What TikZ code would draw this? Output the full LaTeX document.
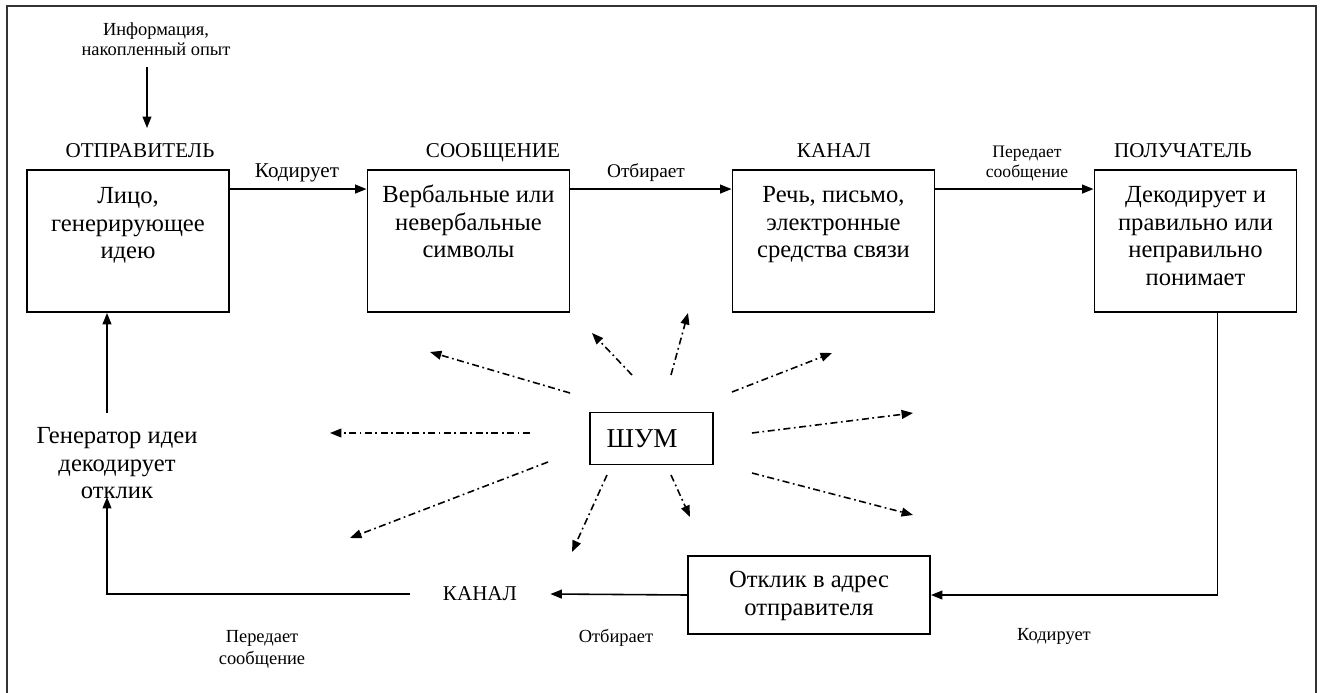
\documentclass[tikz,border=0pt]{standalone}
\usepackage{fontspec}
\setmainfont{Liberation Serif}
\usetikzlibrary{arrows.meta}

\begin{document}
\begin{tikzpicture}[x=0.02cm, y=-0.02cm,
  box/.style={draw, line width=1.1pt, inner sep=0pt, minimum width=4.04cm, minimum height=2.84cm},
  boxtext/.style={inner sep=0pt, align=center, anchor=north, font=\fontsize{14}{15.8}\selectfont},
  header/.style={inner sep=0pt, anchor=base, font=\fontsize{12}{14}\selectfont},
  note/.style={inner sep=0pt, align=center, anchor=north, font=\fontsize{10.5}{11.6}\selectfont},
  arr/.style={line width=0.9pt, -{Triangle[length=6.5pt,width=5pt]}},
  noisearr/.style={line width=0.9pt, dash pattern=on 4pt off 2pt on 1pt off 2pt,
    -{Triangle[length=6.5pt,width=5pt]}},
  frameline/.style={line width=0.9pt, black!80}]

\useasboundingbox (0,0) rectangle (1322,693);

% outer frame
\draw[frameline] (7,693) -- (7,6) -- (1316,6) -- (1316,693);

% main chain of boxes
\node[box] (sender)   at (128,241)    {};
\node[box] (message)  at (468.5,241)  {};
\node[box] (channel)  at (833.5,241)  {};
\node[box] (receiver) at (1195.5,241) {};

\node[boxtext] (sendertxt)   at (128,183.6)    {\strut Лицо,\\генерирующее\\идею};
\node[boxtext] (messagetxt)  at (468.5,182.6)  {\strut Вербальные или\\невербальные\\символы};
\node[boxtext] (channeltxt)  at (833.5,182.6)  {\strut Речь, письмо,\\электронные\\средства связи};
\node[boxtext] (receivertxt) at (1195.5,182.6) {\strut Декодирует и\\правильно или\\неправильно\\понимает};

% headers above the boxes
\node[header] (hsender)   at (140,157)  {ОТПРАВИТЕЛЬ};
\node[header] (hmessage)  at (493,157)  {СООБЩЕНИЕ};
\node[header] (hchannel)  at (834,157)  {КАНАЛ};
\node[header] (hreceiver) at (1183,157) {ПОЛУЧАТЕЛЬ};

% input information
\node[note] (info) at (156,21) {\strut Информация,\\накопленный опыт};
\coordinate (infoA) at (147,67);
\coordinate (infoB) at (147,128);
\draw[arr] (infoA) -- (infoB);

% forward arrows with their labels
\draw[arr] ([yshift=-0.4cm]sender.north east) -- ([yshift=-0.4cm]message.north west);
\draw[arr] ([yshift=-0.4cm]message.north east) -- ([yshift=-0.4cm]channel.north west);
\draw[arr] ([yshift=-0.4cm]channel.north east) -- ([yshift=-0.4cm]receiver.north west);
\node[header] (lenc) at (297,177) {Кодирует};
\node[header, font=\fontsize{11}{13}\selectfont] (lsel) at (646,177) {Отбирает};
\node[note, font=\fontsize{10}{11.4}\selectfont] (ltrans) at (1027,143) {\strut Передает\\сообщение};

% noise source
\node[draw, line width=1.1pt, inner sep=0pt, minimum width=2.46cm, minimum height=1.04cm] (noise) at (651.5,438.5) {};
\node[inner sep=0pt, anchor=base, font=\fontsize{15.5}{18}\selectfont] (noisetxt) at (642,447) {ШУМ};

\coordinate (n1s) at (530,433);  \coordinate (n1t) at (330,433);
\coordinate (n2s) at (570,393);  \coordinate (n2t) at (430,352);
\coordinate (n3s) at (632,375);  \coordinate (n3t) at (592,333);
\coordinate (n4s) at (671,375);  \coordinate (n4t) at (688,313);
\coordinate (n5s) at (732,392);  \coordinate (n5t) at (832,353);
\coordinate (n6s) at (752,433);  \coordinate (n6t) at (913,413);
\coordinate (n7s) at (752,473);  \coordinate (n7t) at (913,515);
\coordinate (n8s) at (671,475);  \coordinate (n8t) at (690,517);
\coordinate (n9s) at (607,475);  \coordinate (n9t) at (572,552);
\coordinate (n10s) at (548,462); \coordinate (n10t) at (350,538);
\foreach \i in {1,...,10} {\draw[noisearr] (n\i s) -- (n\i t);}

% feedback loop
\node[box, minimum width=4.84cm, minimum height=1.56cm] (response) at (809,595) {};
\node[boxtext] (responsetxt) at (809,567.6) {\strut Отклик в адрес\\отправителя};

\node[header, inner xsep=0.66cm, anchor=center] (backchannel) at (480,594) {КАНАЛ};

\node[boxtext] (gentxt) at (117,423.6) {\strut Генератор идеи\\декодирует\\отклик};
\coordinate (gentip) at (107,497);
\coordinate (genout) at (107,413);

\draw[arr] ([xshift=0.44cm]receiver.south) |- (response.east);
\draw[arr] (response.west) -- (backchannel.east);
\draw[arr] (backchannel.west) -| (gentip);
\draw[arr] (genout) -- (genout |- sender.south);

\node[note] (lenc2) at (1054,626) {\strut Кодирует};
\node[note] (lsel2) at (616,628) {\strut Отбирает};
\node[note, font=\fontsize{10.5}{12.5}\selectfont] (ltrans2) at (262,627) {\strut Передает\\сообщение};

\end{tikzpicture}
\end{document}
